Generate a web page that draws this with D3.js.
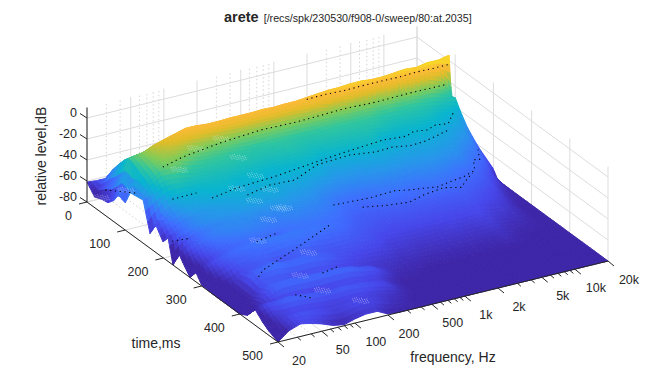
<!DOCTYPE html>
<html><head><meta charset="utf-8">
<style>html,body{margin:0;padding:0;background:#fff;overflow:hidden}svg{display:block}text{font-family:"Liberation Sans",Arial,sans-serif;fill:#262626}</style>
<script src="https://cdn.jsdelivr.net/npm/d3@7"></script></head><body>
<script>
const freqs=[20,25,32,40,50,63,80,100,125,160,200,250,315,400,500,630,800,1000,1250,1600,2000,2500,3150,4000,5000,6300,8000,10000,12500,16000,20000];
const times=[0,20,40,55,70,80,84,88,92,100,113,130,147,165,180,199,212,225,240,255,270,285,300,325,350,375,400,420,440,460,476,500];
const levels=[
[-61,-70,-67,-66,-60,-53,-52,-52,-53,-54,-41,-40,-39,-66,-54,-65,-57,-80,-65,-73,-80,-71,-79,-80,-80,-80,-80,-76,-65,-72,-76,-80],
[-62,-55,-41,-32,-24,-20,-20,-20,-21,-23,-26,-30,-36,-50,-50,-58,-54,-66,-60,-68,-72,-66,-72,-78,-79,-79,-78,-70,-62,-68,-70,-72],
[-70,-60,-45,-32,-22,-18,-17,-17,-17,-18,-19,-22,-31,-41,-46,-54,-52,-60,-57,-63,-68,-63,-67,-75,-76,-76,-70,-72,-62,-70,-66,-68],
[-75,-65,-50,-35,-24,-16,-12,-13,-14,-16,-18,-22,-31,-40,-44,-51,-50,-56,-55,-60,-64,-61,-64,-68,-62,-66,-62,-70,-61,-70,-66,-70],
[-78,-70,-55,-40,-26,-14,-9,-10,-11,-13,-17,-24,-33,-40,-43,-48,-48,-53,-53,-57,-61,-59,-62,-66,-60,-66,-60,-70,-62,-70,-67,-73],
[-80,-74,-60,-45,-30,-14,-6,-7,-9,-13,-20,-28,-33,-37,-40,-46,-47,-51,-52,-55,-60,-58,-60,-64,-58,-66,-60,-70,-63,-71,-69,-77],
[-80,-78,-68,-50,-32,-12,-3,-5,-9,-17,-23,-29,-33,-36,-39,-44,-46,-50,-52,-54,-60,-56,-60,-66,-60,-68,-60,-71,-64,-72,-71,-79],
[-80,-80,-74,-55,-35,-12,-3,-5,-10,-18,-24,-29,-33,-36,-38,-42,-45,-49,-53,-55,-60,-56,-58,-66,-60,-68,-60,-71,-65,-72,-70,-76],
[-80,-80,-78,-60,-40,-14,-4,-5,-11,-19,-25,-29,-33,-38,-42,-40,-44,-50,-54,-56,-61,-56,-58,-64,-60,-68,-60,-70,-64,-71,-69,-74],
[-80,-80,-80,-65,-45,-15,-4,-5,-12,-20,-26,-30,-34,-38,-40,-42,-44,-49,-54,-56,-58,-56,-58,-64,-62,-68,-60,-70,-65,-71,-70,-74],
[-80,-80,-80,-70,-50,-15,-3.5,-5,-13,-21,-27,-30,-34,-37,-39,-41,-44,-48,-52,-55,-58,-57,-59,-65,-64,-70,-61,-70,-66,-72,-72,-79],
[-80,-80,-80,-70,-50,-15,-3.5,-5,-13,-21,-28,-31,-35,-40,-40,-43,-46,-49,-52,-55,-58,-57,-60,-66,-67,-71,-64,-71,-68,-74,-76,-80],
[-80,-80,-80,-70,-50,-15,-3.5,-5,-13,-21,-28,-31,-35,-38,-40,-44,-47,-50,-53,-55,-58,-58,-61,-65,-69,-72,-66,-72,-71,-76,-78,-80],
[-80,-80,-80,-70,-50,-15,-3,-5,-13,-21,-27,-31,-34,-38,-40,-45,-48,-51,-54,-56,-59,-59,-62,-66,-70,-74,-72,-77,-77,-79,-80,-80],
[-80,-80,-80,-70,-50,-15,-3.5,-5,-13,-21,-27,-30,-34,-37,-41,-47,-51,-54,-56,-58,-60,-62,-64,-67,-71,-75,-77,-80,-80,-80,-80,-80],
[-80,-80,-80,-70,-50,-15,-3,-5,-13,-21,-28,-31,-34,-39,-42,-49,-53,-57,-59,-61,-63,-64,-66,-68,-72,-76,-79,-80,-80,-80,-80,-80],
[-80,-80,-80,-70,-50,-15,-3,-5,-13,-21,-28,-32,-36,-42,-46,-50,-54,-58,-60,-62,-64,-65,-67,-71,-74,-77,-79,-80,-80,-80,-80,-80],
[-80,-80,-80,-70,-50,-15,-2,-6,-14,-22,-28,-31,-35,-41,-45,-50,-54,-58,-61,-62,-64,-66,-68,-71,-74,-77,-80,-80,-80,-80,-80,-80],
[-80,-80,-80,-70,-50,-15,-1,-4,-12,-21,-27,-31,-35,-40,-45,-50,-53,-57,-59,-61,-64,-66,-68,-72,-75,-78,-80,-80,-80,-80,-80,-80],
[-80,-80,-80,-70,-50,-15,0,-6,-15,-22,-27,-31,-35,-39,-44,-49,-52,-56,-58,-60,-64,-66,-68,-72,-75,-78,-80,-80,-80,-80,-80,-80],
[-80,-80,-80,-70,-50,-15,0,-4,-12,-21,-27,-31,-34,-39,-43,-48,-52,-55,-58,-61,-64,-66,-68,-72,-75,-78,-80,-80,-80,-80,-80,-80],
[-80,-80,-80,-70,-50,-15,1,-7,-16,-22,-27,-30,-34,-39,-43,-48,-52,-55,-59,-60,-64,-66,-68,-72,-75,-78,-80,-80,-80,-80,-80,-80],
[-80,-80,-80,-70,-50,-15,1,-3,-11,-21,-26,-32,-40,-40,-44,-48,-52,-55,-59,-60,-64,-66,-68,-71,-75,-78,-80,-80,-80,-80,-80,-80],
[-80,-80,-80,-70,-50,-15,0,-10,-18,-23,-29,-34,-38,-41,-44,-48,-51,-54,-57,-60,-64,-66,-68,-72,-75,-78,-80,-80,-80,-80,-80,-80],
[-80,-80,-80,-70,-50,-15,0,-4,-12,-22,-30,-35,-38,-41,-44,-48,-51,-54,-58,-60,-64,-66,-68,-71,-75,-78,-80,-80,-80,-80,-80,-80],
[-80,-80,-80,-70,-50,-15,1,-11,-19,-24,-30,-34,-38,-41,-44,-48,-52,-55,-59,-61,-64,-66,-68,-71,-74,-77,-80,-80,-80,-80,-80,-80],
[-80,-80,-80,-70,-50,-15,2,-4,-13,-23,-30,-35,-39,-42,-46,-50,-54,-58,-60,-63,-66,-68,-71,-74,-77,-79,-80,-80,-80,-80,-80,-80],
[-80,-80,-80,-70,-50,-15,1,-10,-19,-25,-31,-36,-40,-44,-47,-51,-55,-59,-62,-65,-68,-70,-72,-75,-78,-80,-80,-80,-80,-80,-80,-80],
[-80,-80,-80,-70,-50,-15,3,-5,-15,-26,-34,-39,-43,-47,-51,-57,-59,-62,-65,-68,-71,-73,-75,-77,-79,-80,-80,-80,-80,-80,-80,-80],
[-80,-80,-80,-70,-50,-15,3,-8,-20,-29,-36,-41,-46,-51,-56,-61,-65,-69,-73,-76,-78,-79,-80,-80,-80,-80,-80,-80,-80,-80,-80,-80],
[-80,-80,-80,-70,-50,-15,5,-20,-33,-31,-40,-50,-57,-63,-67,-72,-80,-80,-80,-80,-80,-80,-80,-80,-80,-80,-80,-80,-80,-80,-80,-80]
];
const edgeShade=[14,6,2,0,0,0,0,0,0,0,0,0,0,0,0,0,0,0,0,0,0,0,0,0,0,0,0,0,0,0,0];
const freqMajor=[20,50,100,200,500,1000,2000,5000,10000,20000];
const freqLabels=["20","50","100","200","500","1k","2k","5k","10k","20k"];
const freqMinor=[30,40,60,70,80,90,300,400,600,700,800,900,3000,4000,6000,7000,8000,9000];
const timeTicks=[0,100,200,300,400,500];
const levelTicks=[0,-20,-40,-60,-80];
const contours=[
 {level:-3,f:[1000,1500,2200,3300,4800,7000,10000,14000,20000],t:[86,85,87,86,86,87,85,86,86]},
 {level:-20,f:[36,61,149,368,780,2160,4100,8500,18000],t:[125,111,98,90,92,88,91,89,90]},
 {level:-40,f:[33,55],t:[161,160]},
 {level:-40,f:[63,116,180,256,570,1280,3180,5000,6200,7900,10000,12500,17000],t:[184,173,170,168,158,149,141,146,138,143,135,140,115]},
 {level:-40,f:[117,206,340,660,1370,2200,3200,4300,5800,8000,11000],t:[199,187,190,164,159,168,166,174,172,165,157]},
 {level:-60,f:[38,47,134,352],t:[369,354,315,277]},
 {level:-60,f:[570,1180,2000,2630,3300,4300,6000,8000,11000,13500,15000,18000],t:[226,231,228,236,240,246,240,236,226,197,200,173]},
 {level:-60,f:[860,1300,2000,3000,4650,6200,8000,10000],t:[251,262,268,258,252,263,245,232]},
 {level:-60,f:[78,129],t:[274,264]},
 {level:-60,f:[112,160],t:[401,394]},
 {level:-60,f:[46,56],t:[441,461]},
 {level:-60,f:[21,30],t:[217,221]},
 {level:-60,f:[22,33],t:[36,64]}
];
const speckF=[139,90,53,162,180,114,130,197,192,121,179,73,140,93,38,23,84,148];
const speckT=[108,95,118,133,165,173,203,192,233,249,226,284,335,423,21,18,377,464];
const speckL=[-12,-20,-28,-25,-35,-40,-45,-42,-48,-50,-50,-55,-60,-68,-70,-72,-65,-72];
const parulaStops=[[62,38,168],[71,71,235],[62,111,255],[39,150,235],[8,181,208],[49,198,159],[129,204,89],[225,189,41],[252,187,56],[248,215,40],[249,251,21]];
const parulaAt=[0,.125,.25,.375,.5,.625,.72,.82,.9,.96,1];

const W=672,H=384;
const fx=d3.scaleLog([20,20000],[0,330]), fy=d3.scaleLog([20,20000],[0,-81]);
const tx=d3.scaleLinear([0,500],[0,191]), ty=d3.scaleLinear([0,500],[0,140]);
const zy=d3.scaleLinear([-80,10],[0,-94.5]);
const color=d3.scaleLinear(parulaAt,parulaStops.map(c=>d3.rgb(...c))).interpolate(d3.interpolateRgb);
const norm=d3.scaleLinear([-80,5],[0,1]).clamp(true);
const OX=87,OY=202;
const P=(f,t,z)=>[OX+fx(f)+tx(t),OY+fy(f)+ty(t)+zy(z)];
const svg=d3.select("body").append("svg").attr("width",W).attr("height",H);

const grid=svg.append("g").attr("fill","none");
const line=(g,a,b,col,dash)=>g.append("line").attr("x1",a[0]).attr("y1",a[1]).attr("x2",b[0]).attr("y2",b[1]).attr("stroke",col).attr("stroke-width",1).attr("stroke-dasharray",dash||null);
const GC="#dcdcdc";
freqMinor.forEach(f=>{line(grid,P(f,0,-80),P(f,0,10),"#d4d4d4","1.5 2.5");line(grid,P(f,0,-80),P(f,500,-80),"#d4d4d4","1.5 2.5");});
freqMajor.forEach(f=>{line(grid,P(f,0,-80),P(f,0,10),GC);line(grid,P(f,0,-80),P(f,500,-80),GC);});
timeTicks.forEach(t=>{line(grid,P(20000,t,-80),P(20000,t,10),GC);line(grid,P(20,t,-80),P(20000,t,-80),GC);});
levelTicks.forEach(z=>{line(grid,P(20,0,z),P(20000,0,z),GC);line(grid,P(20000,0,z),P(20000,500,z),GC);});

const SUB=3,polys=[];
const lg=f=>Math.log(f);
for(let i=0;i<times.length-1;i++){
 for(let j=freqs.length-2;j>=0;j--){
  const a=levels[j][i],b=levels[j+1][i],c=levels[j][i+1],d=levels[j+1][i+1];
  const fa=freqs[j],fb=freqs[j+1],t0=times[i],t1=times[i+1];
  for(let si=0;si<SUB;si++){for(let sj=SUB-1;sj>=0;sj--){
    const q=(p,r)=>{const fv=Math.exp(lg(fa)+(lg(fb)-lg(fa))*r),tv=t0+(t1-t0)*p,zv=a*(1-p)*(1-r)+b*(1-p)*r+c*p*(1-r)+d*p*r;return {pt:P(fv,tv,zv),z:zv-(edgeShade[j]*(1-r)+edgeShade[j+1]*r)};};
    const c1=q(si/SUB,sj/SUB),c2=q(si/SUB,(sj+1)/SUB),c3=q((si+1)/SUB,(sj+1)/SUB),c4=q((si+1)/SUB,sj/SUB);
    polys.push({pts:[c1.pt,c2.pt,c3.pt,c4.pt],z:(c1.z+c2.z+c3.z+c4.z)/4});
  }}
 }
}
svg.append("g").selectAll("path").data(polys).join("path")
 .attr("d",d=>"M"+d.pts.map(p=>p[0].toFixed(1)+","+p[1].toFixed(1)).join("L")+"Z")
 .attr("fill",d=>color(norm(d.z))).attr("stroke",d=>color(norm(d.z))).attr("stroke-width",1).attr("stroke-linejoin","round");

const sp=svg.append("g").attr("fill","#fff").attr("fill-opacity",.42);
speckF.forEach((f,k)=>{
 for(let a=-3;a<=3;a++)for(let b=-2;b<=2;b++){
  if((a*a+b*b*2)>10) continue;
  const p=P(f*Math.pow(1.045,a+b*.5),speckT[k]+b*5,speckL[k]);
  sp.append("rect").attr("x",p[0]).attr("y",p[1]).attr("width",1).attr("height",1);
 }
});

const lineGen=d3.line();
svg.append("g").selectAll("path").data(contours).join("path")
 .attr("d",c=>lineGen(c.f.map((f,k)=>P(f,c.t[k],c.level))))
 .attr("fill","none").attr("stroke","#000").attr("stroke-width",1.1).attr("stroke-dasharray","1.2 3.6");

const ax=svg.append("g");const AC="#262626";
line(ax,P(20,0,-80),P(20,0,10),AC);
line(ax,P(20,0,-80),P(20,500,-80),AC);
line(ax,P(20,500,-80),P(20000,500,-80),AC);
const add=(p,dx,dy)=>[p[0]+dx,p[1]+dy];
levelTicks.forEach(z=>{const p=P(20,0,z);line(ax,p,add(p,-7,-4.5),AC);
 ax.append("text").attr("x",p[0]-10).attr("y",p[1]-1.5).attr("text-anchor","end").attr("font-size",12.5).text(z);});
timeTicks.forEach(t=>{const p=P(20,t,-80);line(ax,p,add(p,-8,2),AC);
 ax.append("text").attr("x",p[0]-15).attr("y",p[1]+17.5).attr("text-anchor","end").attr("font-size",12.5).text(t);});
freqMajor.forEach((f,k)=>{const p=P(f,500,-80);line(ax,p,add(p,6,5),AC);
 ax.append("text").attr("x",p[0]+21).attr("y",p[1]+22.5).attr("text-anchor","middle").attr("font-size",12.5).text(freqLabels[k]);});
freqMinor.forEach(f=>{const p=P(f,500,-80);line(ax,p,add(p,3.5,3),AC);});

svg.append("text").attr("transform","translate(46,156) rotate(-90)").attr("text-anchor","middle").attr("font-size",14).text("relative level,dB");
svg.append("text").attr("x",156).attr("y",348).attr("text-anchor","middle").attr("font-size",14).text("time,ms");
svg.append("text").attr("x",453).attr("y",362).attr("text-anchor","middle").attr("font-size",14).text("frequency, Hz");
const title=svg.append("text").attr("x",224).attr("y",22);
title.append("tspan").attr("font-weight","bold").attr("font-size",14.5).text("arete");
title.append("tspan").attr("dx",5).attr("font-size",10.7).text("[/recs/spk/230530/f908-0/sweep/80:at.2035]");
</script></body></html>
